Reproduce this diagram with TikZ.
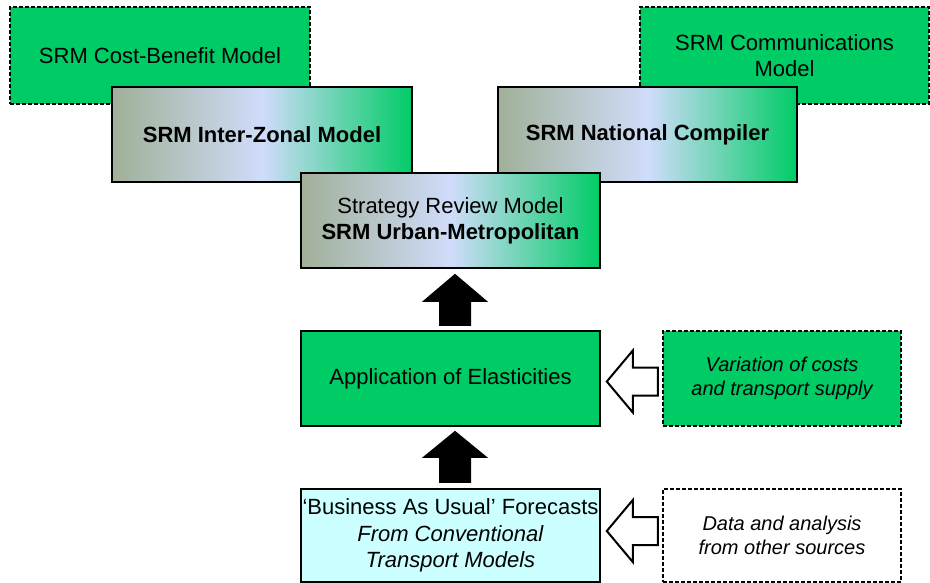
\documentclass[tikz,border=0pt]{standalone}
\usepackage{fontspec}
\setmainfont{Liberation Sans}
\usetikzlibrary{calc}
\definecolor{srmgreen}{RGB}{0,204,102}
\definecolor{gradleft}{RGB}{160,176,152}
\definecolor{gradmid}{RGB}{208,220,250}
\definecolor{baucyan}{RGB}{204,255,255}
\tikzset{
  bigtext/.style={font=\fontsize{22}{26}\selectfont},
  smalltext/.style={font=\fontsize{20}{23.5}\selectfont\itshape},
  solidbox/.style={draw=black, line width=1.6pt, inner sep=0pt, align=center},
  dashbox/.style={draw=black, line width=1.3pt, dash pattern=on 4pt off 2pt, inner sep=0pt, align=center},
  gradbox/.style={solidbox, left color=gradleft, right color=srmgreen, middle color=gradmid},
  uparrow/.style={fill=black},
  hollowarrow/.style={draw=black, fill=white, line width=2pt, line join=miter}
}
\begin{document}
\begin{tikzpicture}[x=1pt,y=-1pt]
\useasboundingbox (0,0) rectangle (930,583);
% top-left pair
\node[dashbox, fill=srmgreen, bigtext, minimum width=300pt, minimum height=97pt] (cb) at (160,55.5) {SRM Cost-Benefit Model};
\node[gradbox, bigtext, minimum width=300pt, minimum height=95pt] (iz) at (262,134.5) {\textbf{SRM Inter-Zonal Model}};
% top-right pair
\node[dashbox, fill=srmgreen, bigtext, minimum width=289pt, minimum height=97pt] (comm) at (784.5,55.5) {SRM Communications\\Model};
\node[gradbox, bigtext, minimum width=299pt, minimum height=95pt] (nc) at (647.5,134.5) {\textbf{SRM National Compiler}};
% urban
\node[gradbox, bigtext, minimum width=299pt, minimum height=95pt] (urban) at (450.5,220.5) {Strategy Review Model\\\textbf{SRM Urban-Metropolitan}};
% application
\node[solidbox, fill=srmgreen, bigtext, minimum width=299pt, minimum height=95pt] (app) at (450.5,378.5) {Application of Elasticities};
\node[dashbox, fill=srmgreen, smalltext, minimum width=238pt, minimum height=95pt] (var) at (782,378.5) {Variation of costs\\and transport supply};
% business as usual
\node[solidbox, fill=baucyan, font=\fontsize{22}{26.5}\selectfont, minimum width=299pt, minimum height=93pt] (bau) at (450.5,535.5) {`Business As Usual' Forecasts\\\textit{From Conventional}\\\textit{Transport Models}};
\node[dashbox, fill=white, smalltext, minimum width=238pt, minimum height=93pt] (data) at (782,535.5) {Data and analysis\\from other sources};
% up arrows
\fill[uparrow, shift={($(urban.south)+(4.5,5)$)}] (0,0) -- (33,28) -- (16,28) -- (16,52) -- (-16,52) -- (-16,28) -- (-33,28) -- cycle;
\fill[uparrow, shift={($(app.south)+(4.5,4)$)}] (0,0) -- (33,27) -- (16,27) -- (16,52) -- (-16,52) -- (-16,27) -- (-33,27) -- cycle;
% hollow left arrows
\draw[hollowarrow, shift={($(app.east)+(6,3)$)}] (0,0) -- (26,-31) -- (26,-14) -- (51,-14) -- (51,14) -- (26,14) -- (26,31) -- cycle;
\draw[hollowarrow, shift={($(bau.east)+(6,-4.5)$)}] (0,0) -- (26,-31) -- (26,-14) -- (51,-14) -- (51,14) -- (26,14) -- (26,31) -- cycle;
\end{tikzpicture}
\end{document}
